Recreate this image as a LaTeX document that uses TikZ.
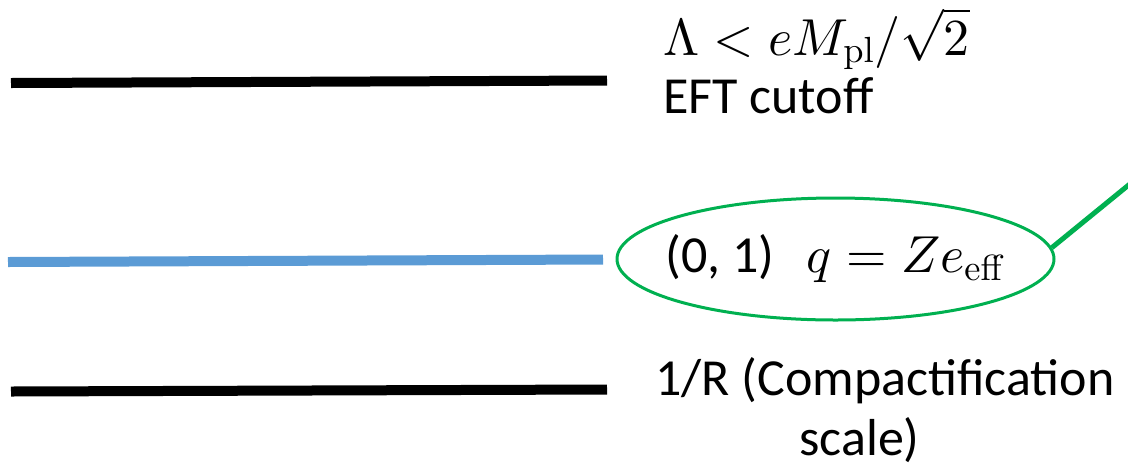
\documentclass[tikz,border=0pt]{standalone}
\usepackage[no-math]{fontspec}
\setmainfont{Carlito}
\DeclareFontShape{OT1}{cmr}{m}{n}{<->cmr10}{}
\DeclareFontShape{OML}{cmm}{m}{it}{<->cmmi10}{}
\DeclareFontShape{OMS}{cmsy}{m}{n}{<->cmsy10}{}
\DeclareFontShape{OMX}{cmex}{m}{n}{<->cmex10}{}
\usetikzlibrary{shapes.geometric}
\definecolor{lineblue}{RGB}{91,155,213}
\definecolor{ellgreen}{RGB}{0,176,80}
\tikzset{
  level/.style={line width=7.5pt, line cap=butt},
  lbl/.style={inner sep=0pt, font=\fontsize{39}{45}\selectfont},
}
\begin{document}
\begin{tikzpicture}[x=0.75pt,y=-0.75pt]
\useasboundingbox (0,0) rectangle (1128,469);
\clip (0,0) rectangle (1128,469);
% level lines
\draw[level, black] (11,83) -- (607,80.5);
\draw[level, lineblue] (8,262) -- (603,259.5);
\draw[level, black] (11,391.5) -- (607,389.5);
% labels
\node[lbl, anchor=base west] (cut) at (663,55) {$\Lambda < eM_{\mathrm{pl}}/\sqrt{2}$};
\node[lbl, anchor=base west] (eft) at (663,113) {EFT cutoff};
\node[lbl, draw=ellgreen, line width=2.25pt, ellipse, inner xsep=-20pt, inner ysep=0pt,
      minimum width=327.75pt, minimum height=91.5pt] (e) at (835.5,259)
      {(0, 1)\hspace{24pt}$q = Ze_{\mathrm{eff}}$};
\node[lbl, anchor=base west, align=left] (rr) at (655,455) {1/R (Compactification\\\hspace*{108pt}scale)};
% green pointer
\coordinate (g) at (1136,179);
\draw[ellgreen, line width=3.75pt] (e.3) -- (g);
\end{tikzpicture}
\end{document}
